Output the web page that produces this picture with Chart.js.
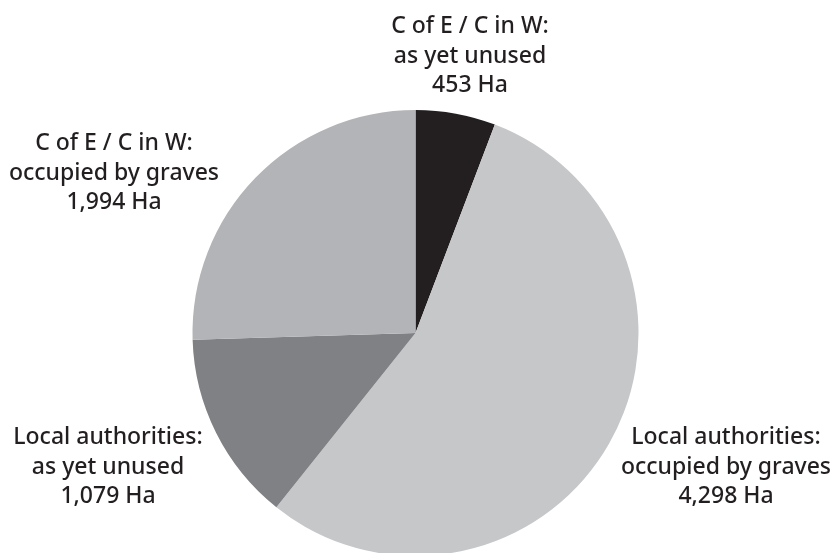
<!DOCTYPE html>
<html>
<head>
<meta charset="utf-8">
<script src="https://cdn.jsdelivr.net/npm/chart.js@4"></script>
<style>
  html, body { margin: 0; padding: 0; background: #fff; overflow: hidden; }
  #wrap { position: relative; width: 833px; height: 560px; }
</style>
</head>
<body>
<div id="wrap"><canvas id="pieChart"></canvas></div>
<script>
// Data (hectares), clockwise from 12 o'clock
const categories = [
    ['C of E / C in W:', 'as yet unused'],
    ['Local authorities:', 'occupied by graves'],
    ['Local authorities:', 'as yet unused'],
    ['C of E / C in W:', 'occupied by graves']
];
const areaHa = [453, 4298, 1079, 1994];
const sliceColors = ['#231f20', '#c6c7c9', '#808184', '#b3b4b7'];

// Where each label block sits: centre x, first baseline y
const labelSpots = [
    { x: 470, y: 33 },
    { x: 726, y: 444 },
    { x: 108, y: 444 },
    { x: 114, y: 150 }
];
const LINE_H = 29.5;

const labelPlugin = {
    id: 'sliceLabels',
    afterDraw(chart) {
        const ctx = chart.ctx;
        ctx.save();
        ctx.fillStyle = '#231f20';
        ctx.font = '500 23px "Noto Sans", sans-serif';
        ctx.textAlign = 'center';
        ctx.textBaseline = 'alphabetic';
        categories.forEach((lines, i) => {
            const spot = labelSpots[i];
            const all = lines.concat([areaHa[i].toLocaleString('en-GB') + ' Ha']);
            all.forEach((t, j) => ctx.fillText(t, spot.x, spot.y + j * LINE_H));
        });
        ctx.restore();
    }
};

const ctx = document.getElementById('pieChart').getContext('2d');
new Chart(ctx, {
    type: 'pie',
    data: {
        labels: categories.map(c => c.join(' ')),
        datasets: [{
            data: areaHa,
            backgroundColor: sliceColors,
            borderWidth: 0
        }]
    },
    options: {
        responsive: true,
        maintainAspectRatio: false,
        animation: false,
        layout: { padding: { left: 192, right: 194, top: 110, bottom: 4 } },
        plugins: {
            legend: { display: false },
            tooltip: { enabled: false }
        }
    },
    plugins: [labelPlugin]
});
</script>
</body>
</html>
